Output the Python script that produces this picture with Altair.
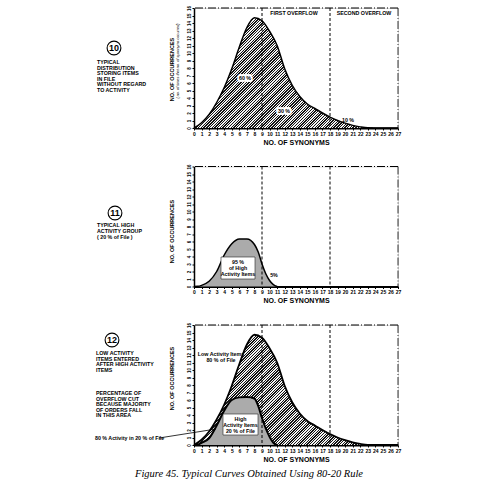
import altair as alt
import pandas as pd

# ---------------- data ----------------
SYN = list(range(28))
ALL_ITEMS = [0, 0.7, 1.8, 3.4, 5.4, 7.9, 10.8, 13.4, 14.7, 14.3, 12.9, 11.0, 7.9, 5.7,
             4.2, 3.2, 2.6, 2.0, 1.45, 1.0, 0.65, 0.35, 0.15, 0.02, 0, 0, 0, 0]
HIGH_X = [0, 0.5, 1, 2, 3, 4, 5, 6, 7, 8, 8.5, 9, 9.5, 10, 10.5, 11]
HIGH_P2 = [0, 0.02, 0.15, 0.7, 2.0, 4.2, 5.7, 6.35, 6.35, 5.6, 4.6, 3.0, 1.7, 0.8, 0.25, 0]
HIGH_P3 = [0, 0.05, 0.3, 0.9, 2.6, 4.6, 6.0, 6.35, 6.4, 6.2, 5.2, 3.6, 2.2, 1.1, 0.3, 0]
X_TICKS = list(range(28))
Y_TICKS = list(range(17))
OVERFLOW_LIMITS = [9, 18]

# ---------------- layout ----------------
LEFT = 193          # page x of the plot's left edge
W, H = 204, 120
TOPS = [7, 165.5, 324]
SPACING = 38.5
FONT = "Liberation Sans"

XS = alt.Scale(domain=[0, 27], nice=False, zero=False)
YS = alt.Scale(domain=[0, 16], nice=False, zero=False)


def dx(px):
    return (px - LEFT) * 27 / W


def dy(py, top):
    return 16 - (py - top) * 16 / H


def hatch(width_px, height_px, period=2.7, duty=0.5, dark="#141414", light="#f2f2f2"):
    c = (width_px + height_px) / (width_px ** 2 + height_px ** 2)
    n = int(round((width_px + height_px) / period))
    stops = []
    for k in range(n):
        t0 = k / n
        t1 = (k + duty) / n
        t2 = (k + 1) / n
        stops += [alt.GradientStop(offset=round(t0, 5), color=dark),
                  alt.GradientStop(offset=round(t1, 5), color=dark),
                  alt.GradientStop(offset=round(t1, 5), color=light),
                  alt.GradientStop(offset=round(t2, 5), color=light)]
    return alt.LinearGradient(gradient="linear", stops=stops,
                              x1=0, y1=0, x2=round(c * width_px, 4), y2=round(c * height_px, 4))


HATCH = hatch(W, 14.7 * H / 16)

x_axis = alt.Axis(values=X_TICKS, title="NO. OF SYNONYMS", labelFont=FONT, labelFontSize=5,
                  labelFontWeight="bold", labelColor="black", labelPadding=1, labelAngle=0,
                  labelOverlap=False, labelFlush=False, tickSize=2, tickColor="black",
                  domainColor="black", domainWidth=2, grid=False, titleFont=FONT,
                  titleFontSize=7, titleFontWeight="bold", titleColor="black", titlePadding=2)


def y_axis(title_y):
    return alt.Axis(values=Y_TICKS, title="NO. OF OCCURRENCES", labelFont=FONT, labelFontSize=4.5,
                    labelFontWeight="bold", labelColor="black", labelAngle=270, labelAlign="center",
                    labelBaseline="bottom", labelPadding=1, labelOverlap=False, labelFlush=False,
                    tickSize=2, tickColor="black", domainColor="black", domainWidth=1.5, grid=False,
                    titleFont=FONT, titleFontSize=5.5, titleFontWeight="bold", titleColor="black",
                    titleAngle=270, titleX=-23, titleY=title_y, titleAlign="center",
                    titleBaseline="middle")


def panel(top, title_abs_y, big, high, high_vals, texts, boxes, extra):
    xe = alt.X("x:Q", scale=XS, axis=x_axis)
    ye = alt.Y("y:Q", scale=YS, axis=y_axis(title_abs_y - top))
    layers = []
    if big:
        df = pd.DataFrame({"x": SYN, "y": ALL_ITEMS})
        layers.append(alt.Chart(df).mark_area(interpolate="monotone", color=HATCH).encode(x=xe, y=ye))
        layers.append(alt.Chart(df).mark_line(interpolate="monotone", color="black",
                                              strokeWidth=1.8 if high else 1.5)
                      .encode(x=xe, y=ye))
    if high:
        dfh = pd.DataFrame({"x": HIGH_X, "y": high_vals})
        layers.append(alt.Chart(dfh).mark_area(interpolate="monotone", color="#ababab").encode(x=xe, y=ye))
        layers.append(alt.Chart(dfh).mark_line(interpolate="monotone", color="black",
                                               strokeWidth=2 if big else 1.5).encode(x=xe, y=ye))
    layers.append(alt.Chart(pd.DataFrame({"x": OVERFLOW_LIMITS})).mark_rule(
        color="black", strokeWidth=1, strokeDash=[3, 2]).encode(x=xe))
    layers.append(alt.Chart(pd.DataFrame({"y": [16]})).mark_rule(
        color="black", strokeWidth=1, strokeDash=[8, 2, 1, 2]).encode(y=ye))
    layers.append(alt.Chart(pd.DataFrame({"x": [27]})).mark_rule(
        color="black", strokeWidth=0.8, strokeDash=[8, 2, 1, 2]).encode(x=xe))
    for (px0, py0, px1, py1) in boxes:
        bdf = pd.DataFrame({"x": [dx(px0)], "x2": [dx(px1)], "y": [dy(py1, top)], "y2": [dy(py0, top)]})
        layers.append(alt.Chart(bdf).mark_rect(fill="white", stroke="#222", strokeWidth=0.6)
                      .encode(x=xe, x2="x2", y=ye, y2="y2"))
    for t in texts:
        label, px, py = t[0], t[1], t[2]
        opts = dict(size=5.3, weight="bold", align="center", italic=False, angle=0, halo=False,
                    font=FONT)
        if len(t) > 3:
            opts.update(t[3])
        df = pd.DataFrame({"x": [dx(px)], "y": [dy(py, top)], "label": [label]})
        kw = dict(font=opts["font"], fontSize=opts["size"], fontWeight=opts["weight"],
                  align=opts["align"], baseline="middle", angle=opts["angle"])
        if opts["italic"]:
            kw["fontStyle"] = "italic"
        if opts["halo"]:
            layers.append(alt.Chart(df).mark_text(color="white", stroke="white", strokeWidth=4,
                                                  strokeJoin="round", **kw)
                          .encode(x=xe, y=ye, text="label:N"))
        layers.append(alt.Chart(df).mark_text(color="black", **kw).encode(x=xe, y=ye, text="label:N"))
    for e in extra:
        kind = e[0]
        if kind == "circle":
            _, label, px, py = e
            df = pd.DataFrame({"x": [dx(px)], "y": [dy(py, top)], "label": [label]})
            layers.append(alt.Chart(df).mark_point(shape="circle", size=190, filled=False,
                                                   color="black", strokeWidth=1.1, opacity=1)
                          .encode(x=xe, y=ye))
            layers.append(alt.Chart(df).mark_text(font=FONT, fontSize=9, fontWeight="bold",
                                                  color="black", baseline="middle")
                          .encode(x=xe, y=ye, text="label:N"))
        elif kind == "line":
            _, px0, py0, px1, py1 = e
            df = pd.DataFrame({"x": [dx(px0)], "y": [dy(py0, top)], "x2": [dx(px1)], "y2": [dy(py1, top)]})
            layers.append(alt.Chart(df).mark_rule(color="black", strokeWidth=0.8)
                          .encode(x=xe, y=ye, x2="x2", y2="y2"))
    return alt.layer(*layers).properties(width=W, height=H)


L = {"align": "left"}
p1 = panel(
    TOPS[0], 68, True, False, None,
    [("FIRST OVERFLOW", 293, 12), ("SECOND OVERFLOW", 363, 12),
     ("60 %", 244, 77, {"halo": True}), ("30 %", 283, 110, {"halo": True}),
     ("10 %", 347, 119),
     ("( no. of times that no. of synonyms occurred)", 177, 60,
      {"size": 3.8, "weight": "normal", "italic": True, "angle": 270}),
     ("TYPICAL", 96, 61, L), ("DISTRIBUTION", 96, 66.5, L), ("STORING ITEMS", 96, 72, L),
     ("IN FILE", 96, 77.5, L), ("WITHOUT REGARD", 96, 83, L), ("TO ACTIVITY", 96, 88.5, L)],
    [],
    [("circle", "10", 113, 47)])

p2 = panel(
    TOPS[1], 230, False, True, HIGH_P2,
    [("95 %", 237, 261), ("of High", 237, 267), ("Activity Items", 237, 273),
     ("5%", 273, 274),
     ("TYPICAL HIGH", 96, 224, L), ("ACTIVITY GROUP", 96, 230, L), ("( 20 % of File )", 96, 236, L)],
    [(220, 256, 254, 278)],
    [("circle", "11", 114, 212)])

p3 = panel(
    TOPS[2], 377, True, True, HIGH_P3,
    [("Low Activity Items", 220, 353), ("80 % of File", 220, 358.5),
     ("High", 239.5, 418), ("Activity Items", 239.5, 424), ("20 % of File", 239.5, 430),
     ("LOW ACTIVITY", 95, 352, L), ("ITEMS ENTERED", 95, 357.5, L),
     ("AFTER HIGH ACTIVITY", 95, 363, L), ("ITEMS", 95, 368.5, L),
     ("PERCENTAGE OF", 95, 392, L), ("OVERFLOW CUT", 95, 397.5, L),
     ("BECAUSE MAJORITY", 95, 403, L), ("OF ORDERS FALL", 95, 408.5, L),
     ("IN THIS AREA", 95, 414, L),
     ("80 % Activity in 20 % of File", 94, 437, L),
     ("Figure 45.   Typical Curves Obtained Using 80-20 Rule", 248, 473,
      {"size": 10.5, "weight": "normal", "italic": True, "font": "Liberation Serif"})],
    [(222, 413, 257, 434)],
    [("circle", "12", 111, 339), ("line", 158, 437, 215, 428)])

chart = alt.vconcat(p1, p2, p3, spacing=SPACING, bounds="flush").properties(
    padding={"left": 94, "top": 4, "right": 4, "bottom": 0}
).configure_view(strokeWidth=0).configure(background="white")

chart.save("out.html", embed_options={"renderer": "svg", "actions": False})
